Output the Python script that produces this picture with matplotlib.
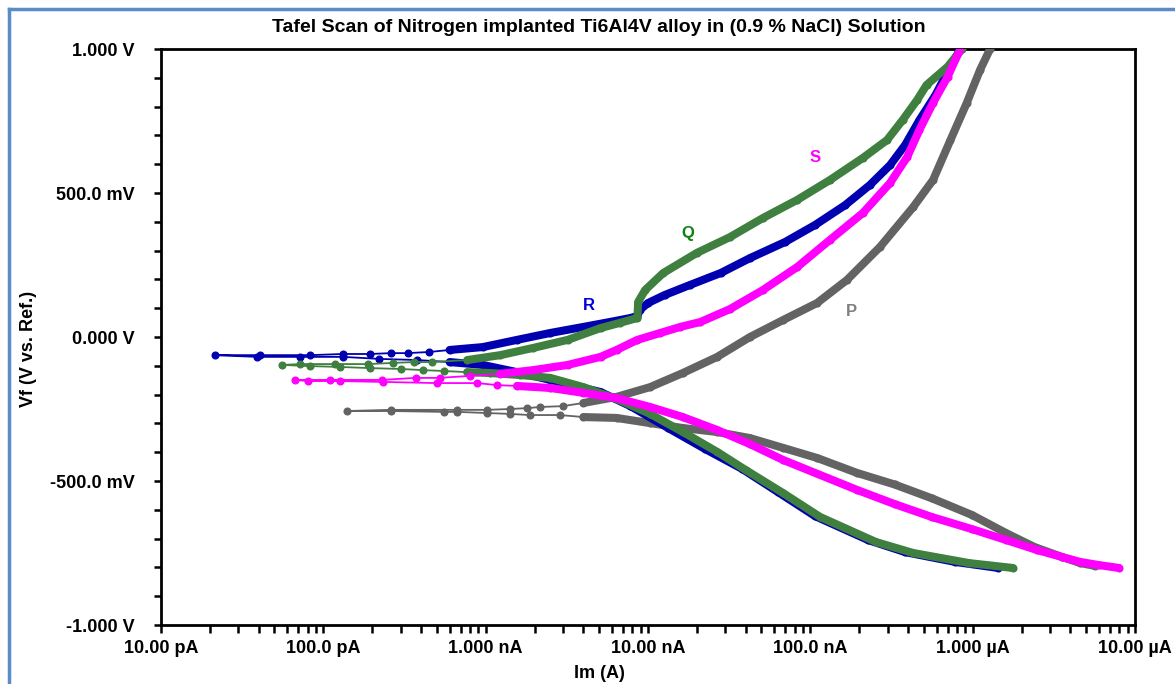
import matplotlib
matplotlib.use("Agg")
import matplotlib.pyplot as plt
import numpy as np
from matplotlib.lines import Line2D
from matplotlib.ticker import FixedLocator, LogLocator, NullFormatter

plt.rcParams['font.family'] = ['Liberation Sans', 'DejaVu Sans']
plt.rcParams['font.weight'] = 'bold'

# axis ticks
x_ticks = [1e-11, 1e-10, 1e-9, 1e-8, 1e-7, 1e-6, 1e-5]
x_labels = ['10.00 pA', '100.0 pA', '1.000 nA', '10.00 nA', '100.0 nA', '1.000 µA', '10.00 µA']
y_ticks = [1.0, 0.5, 0.0, -0.5, -1.0]
y_labels = ['1.000 V', '500.0 mV', '0.000 V', '-500.0 mV', '-1.000 V']

# scan P (grey): cathodic -> Ecorr -> anodic
p_current = [5.7e-6, 4.6e-6, 3.56e-6, 2.4e-6, 1.61e-6, 9.9e-7, 5.6e-7, 3.3e-7, 1.94e-7, 1.1e-7,
             6.8e-8, 4.25e-8, 2.67e-8, 1.64e-8,
             1.03e-8, 6.4e-9, 4.0e-9, 2.87e-9, 1.87e-9, 1.41e-9, 1.02e-9, 6.7e-10, 5.5e-10, 2.6e-10,
             1.4e-10,
             2.6e-10, 6.7e-10, 1.02e-9, 1.41e-9, 1.8e-9, 2.16e-9, 3.0e-9, 4.0e-9, 6.4e-9, 1.03e-8,
             1.64e-8, 2.67e-8, 4.25e-8, 6.8e-8, 1.1e-7, 1.68e-7, 2.69e-7, 4.3e-7, 5.7e-7, 7.3e-7,
             9.2e-7, 1.11e-6, 1.28e-6]
p_potential = [-0.795, -0.785, -0.764, -0.729, -0.681, -0.618, -0.560, -0.512, -0.472, -0.420,
               -0.385, -0.351, -0.330, -0.316,
               -0.299, -0.281, -0.278, -0.271, -0.271, -0.267, -0.264, -0.260, -0.260, -0.257,
               -0.257,
               -0.253, -0.253, -0.253, -0.250, -0.247, -0.243, -0.240, -0.229, -0.208, -0.174,
               -0.125, -0.069, 0.000, 0.059, 0.118, 0.198, 0.313, 0.451, 0.545, 0.684,
               0.813, 0.927, 1.000]

# scan R (blue)
r_current = [1.44e-6, 7.8e-7, 3.84e-7, 2.27e-7, 1.07e-7, 6.3e-8, 3.8e-8, 2.25e-8, 1.33e-8, 7.8e-9,
             5.1e-9, 4.0e-9, 2.5e-9, 1.56e-9, 9.6e-10, 6.0e-10, 3.8e-10, 2.2e-10, 1.32e-10, 7.2e-11,
             3.9e-11, 2.15e-11,
             4.1e-11, 8.3e-11, 1.32e-10, 1.94e-10, 2.6e-10, 3.3e-10, 4.5e-10, 6.0e-10, 9.6e-10, 1.56e-9,
             2.5e-9, 4.0e-9, 5.8e-9, 7.8e-9, 8.6e-9, 8.9e-9, 1.0e-8, 1.27e-8, 1.82e-8, 2.8e-8,
             4.25e-8, 7.0e-8, 1.07e-7, 1.64e-7, 2.33e-7, 3.1e-7, 3.84e-7, 4.7e-7, 5.9e-7, 7.1e-7,
             8.4e-7]
r_potential = [-0.802, -0.781, -0.747, -0.705, -0.622, -0.538, -0.458, -0.389, -0.316, -0.240,
               -0.191, -0.177, -0.149, -0.122, -0.097, -0.087, -0.080, -0.076, -0.069, -0.069,
               -0.069, -0.063,
               -0.063, -0.063, -0.059, -0.059, -0.056, -0.056, -0.052, -0.045, -0.035, -0.010,
               0.014, 0.035, 0.052, 0.066, 0.073, 0.094, 0.118, 0.146, 0.181, 0.222,
               0.274, 0.330, 0.389, 0.458, 0.528, 0.597, 0.667, 0.753, 0.840, 0.927,
               1.000]

# scan Q (green)
q_current = [1.77e-6, 9.5e-7, 4.3e-7, 2.54e-7, 1.15e-7, 6.8e-8, 4.0e-8, 2.67e-8, 1.64e-8, 1.03e-8,
             6.4e-9, 4.0e-9, 2.5e-9, 1.63e-9, 1.06e-9, 7.7e-10, 5.5e-10, 4.1e-10, 3.0e-10, 1.94e-10,
             1.27e-10, 8.3e-11, 5.6e-11,
             7.2e-11, 1.18e-10, 1.88e-10, 2.7e-10, 3.6e-10, 4.7e-10, 7.7e-10, 1.23e-9, 1.96e-9, 3.2e-9,
             5.1e-9, 6.7e-9, 8.6e-9, 8.7e-9, 9.6e-9, 1.24e-8, 2.0e-8, 3.2e-8, 5.1e-8, 8.3e-8,
             1.32e-7, 2.11e-7, 2.97e-7, 3.7e-7, 4.55e-7, 5.2e-7, 7.0e-7, 8.6e-7]
q_potential = [-0.802, -0.785, -0.750, -0.712, -0.625, -0.542, -0.462, -0.399, -0.330, -0.267,
               -0.215, -0.174, -0.142, -0.132, -0.125, -0.122, -0.118, -0.115, -0.111, -0.108,
               -0.104, -0.101, -0.097,
               -0.094, -0.094, -0.094, -0.090, -0.087, -0.087, -0.080, -0.063, -0.038, -0.010,
               0.031, 0.049, 0.066, 0.122, 0.163, 0.222, 0.292, 0.347, 0.413, 0.476,
               0.545, 0.622, 0.684, 0.753, 0.823, 0.875, 0.938, 1.000]

# scan S (magenta)
s_current = [7.98e-6, 6.0e-6, 4.6e-6, 3.56e-6, 2.5e-6, 1.61e-6, 9.9e-7, 5.6e-7, 3.3e-7, 1.94e-7,
             6.8e-8, 4.25e-8, 2.67e-8, 1.64e-8,
             1.03e-8, 6.4e-9, 4.0e-9, 2.5e-9, 1.56e-9, 1.17e-9, 8.9e-10, 5.0e-10, 2.33e-10, 1.27e-10,
             8.1e-11, 6.7e-11,
             1.1e-10, 2.3e-10, 3.7e-10, 5.2e-10, 8.0e-10, 1.23e-9, 1.96e-9, 3.2e-9, 5.1e-9, 6.4e-9,
             8.6e-9, 1.19e-8, 1.58e-8, 2.1e-8, 3.2e-8, 5.1e-8, 8.3e-8, 1.32e-7, 2.11e-7, 3.1e-7,
             3.95e-7, 4.7e-7, 5.7e-7, 7.0e-7, 8.4e-7]
s_potential = [-0.802, -0.792, -0.781, -0.764, -0.740, -0.705, -0.667, -0.625, -0.580, -0.531,
               -0.427, -0.372, -0.323, -0.278,
               -0.243, -0.212, -0.194, -0.177, -0.170, -0.167, -0.160, -0.160, -0.156, -0.153,
               -0.153, -0.149,
               -0.149, -0.149, -0.142, -0.142, -0.135, -0.128, -0.115, -0.097, -0.069, -0.045,
               -0.010, 0.014, 0.035, 0.052, 0.097, 0.163, 0.243, 0.337, 0.431, 0.535,
               0.625, 0.719, 0.813, 0.903, 1.000]

names = ['P', 'R', 'Q', 'S']
colors = ['#636363', '#0000b0', '#3f7f3f', '#ff00ff']
label_colors = ['#808080', '#0000dd', '#108010', '#ff00ff']
label_pos = [(1.8e-7, 0.087), (4.3e-9, 0.111), (1.77e-8, 0.361), (1.07e-7, 0.622)]
dense_from = [3e-9, 5e-10, 7e-10, 1.2e-9]
currents = [p_current, r_current, q_current, s_current]
potentials = [p_potential, r_potential, q_potential, s_potential]

fig = plt.figure(figsize=(11.75, 6.84), dpi=100)
ax = fig.add_axes([161 / 1175, 1 - 625 / 684, (1135 - 161) / 1175, (625 - 49) / 684])

for cur, pot, c, thr in zip(currents, potentials, colors, dense_from):
    I = np.array(cur)
    V = np.array(pot)
    ax.plot(I, V, color=c, lw=1.3, marker='o', ms=4.8, mec=c, mfc=c, zorder=3)
    ax.plot(I, np.where(I > thr, V, np.nan), color=c, lw=5.8, solid_capstyle='round',
            solid_joinstyle='round', zorder=3)

for n, c, (lx, ly) in zip(names, label_colors, label_pos):
    ax.text(lx, ly, n, color=c, fontsize=12, fontweight='bold', ha='center', va='center', zorder=4)

ax.set_xscale('log')
ax.set_xlim(1e-11, 1e-5)
ax.set_ylim(-1.0, 1.0)
ax.xaxis.set_major_locator(FixedLocator(x_ticks))
ax.set_xticklabels(x_labels)
ax.xaxis.set_minor_locator(LogLocator(base=10, subs=np.arange(2, 10)))
ax.xaxis.set_minor_formatter(NullFormatter())
ax.yaxis.set_major_locator(FixedLocator(y_ticks))
ax.set_yticklabels(y_labels)
ax.yaxis.set_minor_locator(FixedLocator(np.arange(-0.9, 1.0, 0.1)))

ax.tick_params(axis='both', which='both', direction='out', width=1.8, labelsize=13)
ax.tick_params(axis='x', which='both', length=6, pad=5)
ax.tick_params(axis='y', which='both', length=5, pad=14)
for lab in ax.get_xticklabels() + ax.get_yticklabels():
    lab.set_fontweight('bold')
for s in ax.spines.values():
    s.set_linewidth(2)

fig.text(0.51, 0.9605, 'Tafel Scan of Nitrogen implanted Ti6Al4V alloy in (0.9 % NaCl) Solution',
         ha='center', va='center', fontsize=14, fontweight='bold')
fig.text(0.024, 0.49, 'Vf (V vs. Ref.)', rotation=90, ha='center', va='center',
         fontsize=13, fontweight='bold')
fig.text(0.51, 2 / 684, 'Im (A)', ha='center', va='bottom', fontsize=13, fontweight='bold')

# light blue frame around the picture
fig.add_artist(Line2D([9 / 1175, 1.0], [1 - 9 / 684, 1 - 9 / 684], color='#5b8bc9', lw=2.5))
fig.add_artist(Line2D([9 / 1175, 9 / 1175], [0.0, 1 - 9 / 684], color='#5b8bc9', lw=2.5))

fig.savefig('out.png', dpi=100)
